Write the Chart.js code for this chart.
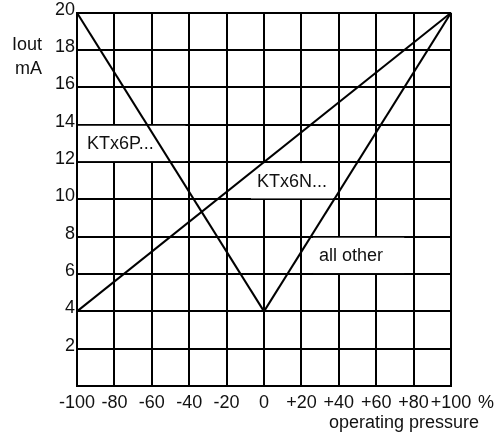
<!DOCTYPE html>
<html>
<head>
<meta charset="utf-8">
<script src="https://cdn.jsdelivr.net/npm/chart.js@4"></script>
<style>
body{margin:0;background:#fff;}
#wrap{width:499px;height:434px;}
</style>
</head>
<body>
<div id="wrap"><canvas id="chart"></canvas></div>
<script>
// operating pressure (%) -> output current (mA)
const pressureP = [-100, 0];
const currentP = [20, 4];
const pressureN = [-100, 100];
const currentN = [4, 20];
const pressureOther = [0, 100];
const currentOther = [4, 20];

const seriesNames = ['KTx6P...', 'KTx6N...', 'all other'];
const xTicks = [-100, -80, -60, -40, -20, 0, 20, 40, 60, 80, 100];
const yTicks = [2, 4, 6, 8, 10, 12, 14, 16, 18, 20];

// white label boxes sitting in the grid (data units)
const notes = [
    {text: seriesNames[0], x0: -100, x1: -42, y0: 12, y1: 14, tx: -94.6},
    {text: seriesNames[1], x0: -7.5, x1: 37, y0: 10, y1: 12, tx: -3.7},
    {text: seriesNames[2], x0: 25.7, x1: 75, y0: 6, y1: 8, tx: 29.4}
];

const FONT = '"Liberation Sans", Arial, sans-serif';

function toPoints(xs, ys){
    return xs.map((v, i) => ({x: v, y: ys[i]}));
}

function makeSet(name, xs, ys){
    return {
        label: name,
        data: toPoints(xs, ys),
        showLine: true,
        borderColor: '#000',
        borderWidth: 2,
        pointRadius: 0,
        fill: false
    };
}

const notesPlugin = {
    id: 'notes',
    beforeDatasetsDraw(chart){
        const {ctx, scales: {x, y}} = chart;
        ctx.save();
        ctx.font = '18px ' + FONT;
        ctx.textBaseline = 'middle';
        notes.forEach(n => {
            const left = x.getPixelForValue(n.x0) + 1;
            const right = x.getPixelForValue(n.x1);
            const top = y.getPixelForValue(n.y1) + 1;
            const bottom = y.getPixelForValue(n.y0) - 1;
            ctx.fillStyle = '#fff';
            ctx.fillRect(left, top, right - left, bottom - top);
            ctx.fillStyle = '#111';
            ctx.fillText(n.text, x.getPixelForValue(n.tx), (top + bottom) / 2 + 1);
        });
        ctx.restore();
    },
    afterDraw(chart){
        const {ctx, scales: {x}} = chart;
        ctx.save();
        ctx.font = '18px ' + FONT;
        ctx.fillStyle = '#111';
        ctx.textBaseline = 'middle';
        ctx.textAlign = 'right';
        ctx.fillText('Iout', 42, 45);
        ctx.fillText('mA', 42, 69);
        ctx.fillText('operating pressure', 479, 423);
        ctx.textAlign = 'left';
        ctx.fillText('%', x.right + 27, 403);
        ctx.restore();
    }
};

Chart.defaults.font.family = FONT;
Chart.defaults.font.size = 18;
Chart.defaults.color = '#111';

new Chart(document.querySelector('#chart').getContext('2d'), {
    type: 'scatter',
    data: {
        datasets: [
            makeSet(seriesNames[0], pressureP, currentP),
            makeSet(seriesNames[1], pressureN, currentN),
            makeSet(seriesNames[2], pressureOther, currentOther)
        ]
    },
    options: {
        responsive: true,
        maintainAspectRatio: false,
        animation: false,
        layout: {padding: {top: 12, right: 48, bottom: 0, left: 0}},
        plugins: {legend: {display: false}, tooltip: {enabled: false}},
        scales: {
            x: {
                type: 'linear',
                min: xTicks[0],
                max: xTicks[xTicks.length - 1],
                afterFit: s => { s.height = 48; },
                afterBuildTicks: s => { s.ticks = xTicks.map(v => ({value: v})); },
                grid: {color: '#000', lineWidth: 2, drawTicks: false},
                border: {color: '#000', width: 2},
                ticks: {
                    padding: 6,
                    maxRotation: 0,
                    autoSkip: false,
                    callback: v => v > 0 ? '+' + v : '' + v
                }
            },
            y: {
                type: 'linear',
                min: 0,
                max: yTicks[yTicks.length - 1],
                afterFit: s => { s.width = 77; },
                afterBuildTicks: s => { s.ticks = [0].concat(yTicks).map(v => ({value: v})); },
                grid: {color: '#000', lineWidth: 2, drawTicks: false},
                border: {color: '#000', width: 2},
                ticks: {
                    padding: 2,
                    labelOffset: -3,
                    callback: v => v === 0 ? '' : '' + v
                }
            }
        }
    },
    plugins: [notesPlugin]
});
</script>
</body>
</html>
